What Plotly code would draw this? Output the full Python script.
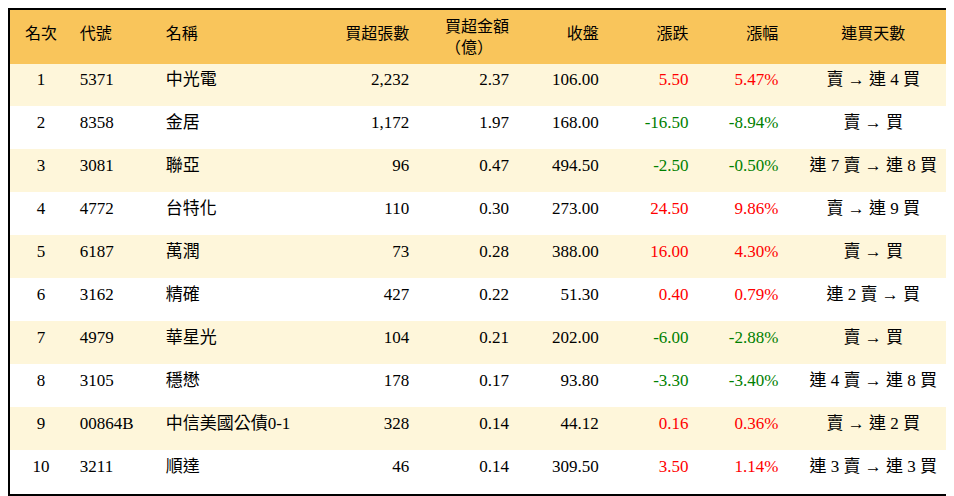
import plotly.graph_objects as go

rank = [1, 2, 3, 4, 5, 6, 7, 8, 9, 10]
code = ["5371", "8358", "3081", "4772", "6187", "3162", "4979", "3105", "00864B", "3211"]
name = ["中光電", "金居", "聯亞", "台特化", "萬潤", "精確", "華星光", "穩懋", "中信美國公債0-1", "順達"]
lots = [2232, 1172, 96, 110, 73, 427, 104, 178, 328, 46]
amount = [2.37, 1.97, 0.47, 0.30, 0.28, 0.22, 0.21, 0.17, 0.14, 0.14]
close = [106.00, 168.00, 494.50, 273.00, 388.00, 51.30, 202.00, 93.80, 44.12, 309.50]
change = [5.50, -16.50, -2.50, 24.50, 16.00, 0.40, -6.00, -3.30, 0.16, 3.50]
pct = [5.47, -8.94, -0.50, 9.86, 4.30, 0.79, -2.88, -3.40, 0.36, 1.14]
streak = ["賣 → 連 4 買", "賣 → 買", "連 7 賣 → 連 8 買", "賣 → 連 9 買", "賣 → 買",
          "連 2 賣 → 買", "賣 → 買", "連 4 賣 → 連 8 買", "賣 → 連 2 買", "連 3 賣 → 連 3 買"]

headers = ["<br>名次", "<br>代號", "<br>名稱", "<br>買超張數", "買超金額<br>（億）", "<br>收盤", "<br>漲跌", "<br>漲幅", "<br>連買天數"]

n = len(rank)
row_fill = ["#FEF6DA" if i % 2 == 0 else "#FFFFFF" for i in range(n)]
sign_col = ["#FF0000" if v > 0 else "#008000" for v in change]
black = ["#000000"] * n

cols = [
    [str(r) for r in rank],
    code,
    name,
    [f"{v:,}" for v in lots],
    [f"{v:.2f}" for v in amount],
    [f"{v:.2f}" for v in close],
    [f"{v:.2f}" for v in change],
    [f"{v:.2f}%" for v in pct],
    streak,
]
widths = [62, 86, 160, 100, 100, 90, 90, 90, 174]
align = ["center", "left", "left", "right", "right", "right", "right", "right", "center"]
font_colors = [black, black, black, black, black, black, sign_col, sign_col, black]

fnt = "Liberation Serif, Noto Sans CJK TC"
fig = go.Figure(go.Table(
    columnwidth=widths,
    header=dict(values=headers, fill_color="#F9C55B", align=align,
                font=dict(family=fnt, size=16, color="#000000"),
                height=30, line=dict(width=1, color="#F9C55B")),
    cells=dict(values=cols, fill_color=[row_fill] * 9, align=align,
               font=dict(family=fnt, size=17, color=font_colors),
               height=43, line=dict(width=1, color=[row_fill] * 9)),
    domain=dict(x=[0, 1], y=[0, 1]),
))
fig.update_layout(width=954, height=496, margin=dict(l=2, r=2, t=2, b=2),
                  paper_bgcolor="#000000")
fig.write_html("out.html")
